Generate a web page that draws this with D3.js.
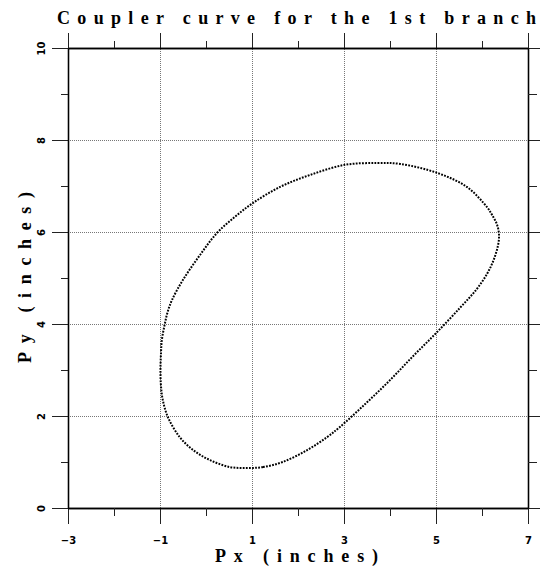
<!DOCTYPE html>
<html>
<head>
<meta charset="utf-8">
<script src="https://cdn.jsdelivr.net/npm/d3@7"></script>
<style>
  body { margin: 0; background: #fff; }
  .grid line { stroke: #777; stroke-width: 1; stroke-dasharray: 1,1; }
  .grid path { display: none; }
  .axis path { stroke: #000; stroke-width: 1.3; }
  .axis line { stroke: #222; stroke-width: 1; }
  .axis text { font-family: "DejaVu Sans", sans-serif; font-weight: bold; font-size: 10px; fill: #000; }
  .label { font-family: "Liberation Serif", serif; font-weight: bold; font-size: 18px; fill: #000; }
</style>
</head>
<body>
<script>
// tick positions
var xMajor = [-3, -1, 1, 3, 5, 7];
var xMinor = [-2, 0, 2, 4, 6];
var yMajor = [0, 2, 4, 6, 8, 10];
var yMinor = [1, 3, 5, 7, 9];

// coupler curve (Px, Py in inches)
var curvePx = [0.89, 1.24, 1.67, 2.20, 2.63, 2.91, 3.46, 4.00, 4.50, 5.00, 5.52, 5.87, 6.11, 6.26,
               6.35, 6.37, 6.33, 6.22, 6.11, 5.67, 5.04, 4.22, 3.72, 3.02, 2.26, 1.61, 1.02, 0.63, 0.24,
               -0.13, -0.50, -0.74, -0.84, -0.90, -0.96, -0.98, -0.99, -0.98, -0.94, -0.83, -0.57,
               -0.28, 0.09, 0.52];
var curvePy = [0.87, 0.89, 1.00, 1.26, 1.54, 1.76, 2.26, 2.78, 3.30, 3.80, 4.35, 4.74, 5.09, 5.41,
               5.72, 5.93, 6.15, 6.37, 6.54, 6.98, 7.28, 7.48, 7.50, 7.46, 7.24, 6.98, 6.63, 6.33, 5.98,
               5.50, 4.96, 4.52, 4.24, 3.98, 3.65, 3.33, 3.00, 2.67, 2.35, 1.98, 1.54,
               1.26, 1.04, 0.89];

(function() {
  var width = 540, height = 569;
  var m = { left: 68, right: 528, top: 48, bottom: 508 };

  var svg = d3.select("body").append("svg")
    .attr("width", width)
    .attr("height", height);

  var x = d3.scaleLinear().domain([-3, 7]).range([m.left, m.right]);
  var y = d3.scaleLinear().domain([0, 10]).range([m.bottom, m.top]);

  // dotted grid on the inner major ticks
  svg.append("g").attr("class", "grid")
    .attr("transform", "translate(0," + m.bottom + ")")
    .call(d3.axisBottom(x).tickValues(xMajor.slice(1, -1)).tickSize(-(m.bottom - m.top)).tickFormat(""));
  svg.append("g").attr("class", "grid")
    .attr("transform", "translate(" + m.left + ",0)")
    .call(d3.axisLeft(y).tickValues(yMajor.slice(1, -1)).tickSize(-(m.right - m.left)).tickFormat(""));

  // bottom axis
  var bx = svg.append("g").attr("class", "axis")
    .attr("transform", "translate(0," + m.bottom + ")")
    .call(d3.axisBottom(x).tickValues(xMajor).tickSize(16).tickSizeOuter(0).tickFormat(d3.format("d")));
  bx.selectAll("text").attr("y", 29);
  svg.append("g").attr("class", "axis")
    .attr("transform", "translate(0," + m.bottom + ")")
    .call(d3.axisBottom(x).tickValues(xMinor).tickSize(8).tickSizeOuter(0).tickFormat(""));

  // top axis
  svg.append("g").attr("class", "axis")
    .attr("transform", "translate(0," + m.top + ")")
    .call(d3.axisTop(x).tickValues(xMajor).tickSize(15).tickSizeOuter(0).tickFormat(""));
  svg.append("g").attr("class", "axis")
    .attr("transform", "translate(0," + m.top + ")")
    .call(d3.axisTop(x).tickValues(xMinor).tickSize(7).tickSizeOuter(0).tickFormat(""));

  // left axis, labels turned
  var ly = svg.append("g").attr("class", "axis")
    .attr("transform", "translate(" + m.left + ",0)")
    .call(d3.axisLeft(y).tickValues(yMajor).tickSize(16).tickSizeOuter(0).tickFormat(d3.format("d")));
  ly.selectAll("text")
    .attr("x", null).attr("dy", null)
    .attr("text-anchor", "middle")
    .attr("transform", "translate(-23,0) rotate(-90)");
  svg.append("g").attr("class", "axis")
    .attr("transform", "translate(" + m.left + ",0)")
    .call(d3.axisLeft(y).tickValues(yMinor).tickSize(7).tickSizeOuter(0).tickFormat(""));

  // right axis
  svg.append("g").attr("class", "axis")
    .attr("transform", "translate(" + m.right + ",0)")
    .call(d3.axisRight(y).tickValues(yMajor).tickSize(12).tickSizeOuter(0).tickFormat(""));
  svg.append("g").attr("class", "axis")
    .attr("transform", "translate(" + m.right + ",0)")
    .call(d3.axisRight(y).tickValues(yMinor).tickSize(9).tickSizeOuter(0).tickFormat(""));

  // the curve, drawn as a row of dots
  var pts = curvePx.map(function(d, i) { return [d, curvePy[i]]; });
  var line = d3.line()
    .x(function(d) { return x(d[0]); })
    .y(function(d) { return y(d[1]); })
    .curve(d3.curveCatmullRomClosed.alpha(0.5));
  svg.append("path")
    .datum(pts)
    .attr("d", line)
    .attr("fill", "none")
    .attr("stroke", "#000")
    .attr("stroke-width", 2)
    .attr("stroke-dasharray", "1.8,1.3");

  // titles
  svg.append("text").attr("class", "label")
    .attr("x", 57).attr("y", 24)
    .attr("textLength", 479).attr("lengthAdjust", "spacing")
    .text("Coupler curve for the 1st branch");
  svg.append("text").attr("class", "label")
    .attr("x", 215).attr("y", 562)
    .attr("textLength", 163).attr("lengthAdjust", "spacing")
    .text("Px (inches)");
  svg.append("text").attr("class", "label")
    .attr("transform", "translate(31,363) rotate(-90)")
    .attr("textLength", 171).attr("lengthAdjust", "spacing")
    .text("Py (inches)");
})();
</script>
</body>
</html>
